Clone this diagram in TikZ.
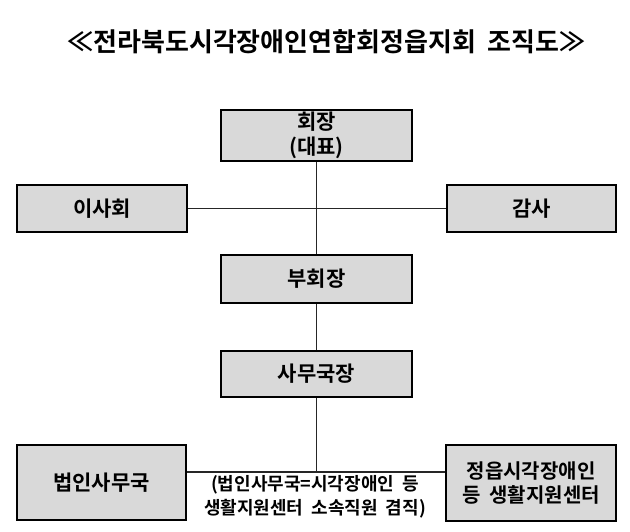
\documentclass[tikz,border=0pt]{standalone}
\usepackage{fontspec}
\setmainfont{Noto Sans CJK KR}[BoldFont={Noto Sans CJK KR Bold}]
\newcommand{\wsp}{\hspace{0.45em}}
\begin{document}
\begin{tikzpicture}[x=1pt,y=-1pt,
  box/.style={draw=black,line width=1.5pt,fill=gray!30,inner sep=0pt,align=center,
    font=\bfseries\fontsize{21}{25}\selectfont},
  conn/.style={draw=black!85,line width=1.3pt}]
\useasboundingbox[fill=white] (0,0) rectangle (630,532);
\node[font=\bfseries\fontsize{26}{28}\selectfont] (title) at (326.5,42) {≪전라북도시각장애인연합회정읍지회\wsp 조직도≫};
\node[box,minimum width=191pt,minimum height=51pt] (pres) at (316.5,135.5) {회장\\(대표)};
\node[box,minimum width=170pt,minimum height=47pt] (board) at (102,208.5) {이사회};
\node[box,minimum width=169pt,minimum height=47pt] (audit) at (531.5,208.5) {감사};
\node[box,minimum width=191pt,minimum height=48pt] (vice) at (316.5,279) {부회장};
\node[box,minimum width=191pt,minimum height=46pt] (sec) at (316.5,374) {사무국장};
\node[box,minimum width=169pt,minimum height=75pt] (office) at (101.5,482.5) {법인사무국};
\node[box,minimum width=170pt,minimum height=76pt,font=\bfseries\fontsize{20}{24}\selectfont] (center) at (531,483) {정읍시각장애인\\등\wsp 생활지원센터};
\node[align=center,font=\bfseries\fontsize{18}{24}\selectfont] (note) at (315,497) {(법인사무국=시각장애인\wsp 등\\생활지원센터\wsp 소속직원\wsp 겸직)};
\coordinate (j) at (316.5,472);
\draw[conn] (board.east) -- (audit.west);
\draw[conn] (pres.south) -- (vice.north);
\draw[conn] (vice.south) -- (sec.north);
\draw[conn] (sec.south) -- (j);
\draw[conn] (office.east |- j) -- (center.west |- j);
\end{tikzpicture}
\end{document}
